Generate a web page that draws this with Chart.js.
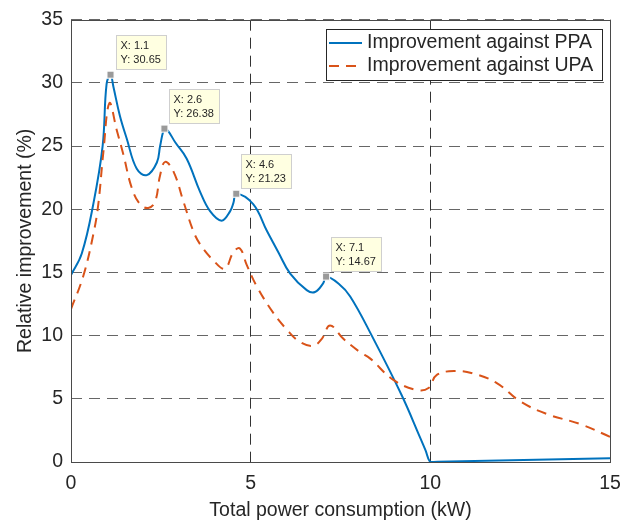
<!DOCTYPE html>
<html>
<head>
<meta charset="utf-8">
<script src="https://cdn.jsdelivr.net/npm/chart.js@4.4.0/dist/chart.umd.min.js"></script>
<style>
  body { margin: 0; background: #fff; }
  #chart { display: block; }
</style>
</head>
<body>
<canvas id="chart" width="639" height="525"></canvas>
<script>
// values
const ppaPower = [0, 0.3, 0.62, 0.88, 0.99, 1.1, 1.18, 1.36, 1.55, 1.83, 2.11, 2.39, 2.48, 2.6, 2.7, 2.9, 3.22, 3.59, 3.87, 4.19, 4.43, 4.52, 4.6, 5.07, 5.45, 5.77, 6.1, 6.56, 6.79, 7.02, 7.1, 7.45, 7.77, 8.37, 9.2, 9.71, 9.87, 10, 10.2, 15];
const ppaGain = [14.8, 16.5, 20.4, 25, 29.9, 30.65, 29.7, 27.4, 25.6, 23.2, 22.7, 23.7, 25.0, 26.38, 26.2, 25.3, 24.0, 21.4, 19.85, 19.1, 19.85, 20.5, 21.23, 20.4, 18.3, 16.6, 14.9, 13.6, 13.45, 14.15, 14.67, 14.1, 13.1, 10.0, 5.3, 1.97, 0.9, 0, 0.02, 0.3];

const upaPower = [0, 0.34, 0.62, 0.76, 0.9, 1.07, 1.27, 1.46, 1.69, 1.92, 2.15, 2.34, 2.48, 2.62, 2.85, 3.13, 3.4, 3.6, 3.96, 4.28, 4.52, 4.7, 4.89, 5.17, 5.63, 6.0, 6.37, 6.74, 6.98, 7.21, 7.58, 8.04, 8.32, 8.97, 9.62, 9.95, 10.18, 10.73, 11.2, 11.85, 12.5, 13.24, 14.17, 15];
const upaGain = [12.1, 14.7, 18.0, 20.4, 24.5, 28.4, 26.3, 24.3, 21.7, 20.4, 20.1, 20.6, 22.7, 23.75, 23.0, 20.6, 18.3, 17.2, 15.96, 15.3, 16.6, 16.9, 15.6, 13.9, 11.8, 10.5, 9.5, 9.2, 9.75, 10.8, 9.75, 8.7, 8.2, 6.5, 5.7, 5.85, 6.9, 7.2, 7.0, 6.25, 4.8, 3.8, 3.0, 2.0];

// data tips on the PPA peaks
const tipPower = [1.1, 2.6, 4.6, 7.1];
const tipGain = [30.65, 26.38, 21.23, 14.67];

const xTicks = [0, 5, 10, 15];
const yTicks = [0, 5, 10, 15, 20, 25, 30, 35];
const seriesNames = ["Improvement against PPA", "Improvement against UPA"];

const FONT = "'Liberation Sans', Arial, Helvetica, sans-serif";
const TEXT = "#262626";

function toPoints(xs, ys) {
  return xs.map((x, i) => ({ x: x, y: ys[i] }));
}

// axes box
const frame = {
  id: "frame",
  afterDatasetsDraw(chart) {
    const { ctx, chartArea: a } = chart;
    ctx.save();
    ctx.strokeStyle = "#4a4a4a";
    ctx.lineWidth = 1;
    ctx.strokeRect(Math.round(a.left) + 0.5, Math.round(a.top) + 0.5,
      Math.round(a.right - a.left), Math.round(a.bottom - a.top));
    ctx.restore();
  }
};

// yellow data tip boxes
const dataTips = {
  id: "dataTips",
  afterDraw(chart) {
    const ctx = chart.ctx;
    const meta = chart.getDatasetMeta(2);
    ctx.save();
    ctx.font = "11px " + FONT;
    meta.data.forEach((pt, i) => {
      const lines = ["X: " + tipPower[i], "Y: " + tipGain[i]];
      const w = Math.round(Math.max(...lines.map(l => ctx.measureText(l).width)) + 10);
      const h = 34;
      const left = Math.round(pt.x + 5);
      const top = Math.round(pt.y - 6 - h);
      ctx.fillStyle = "#ffffe1";
      ctx.fillRect(left, top, w, h);
      ctx.strokeStyle = "#cfcfcf";
      ctx.lineWidth = 1;
      ctx.strokeRect(left + 0.5, top + 0.5, w, h);
      ctx.fillStyle = TEXT;
      ctx.textBaseline = "middle";
      ctx.fillText(lines[0], left + 4.5, top + 11);
      ctx.fillText(lines[1], left + 4.5, top + 24.5);
    });
    ctx.restore();
  }
};

// legend inside the top right corner
const insideLegend = {
  id: "insideLegend",
  afterDraw(chart) {
    const { ctx, chartArea: a } = chart;
    ctx.save();
    ctx.font = "19.5px " + FONT;
    const textW = Math.max(...seriesNames.map(n => ctx.measureText(n).width));
    const w = Math.round(textW + 50);
    const h = 51;
    const left = Math.round(a.right - 8 - w);
    const top = Math.round(a.top + 9);
    ctx.fillStyle = "#fff";
    ctx.fillRect(left, top, w, h);
    ctx.strokeStyle = "#262626";
    ctx.lineWidth = 1;
    ctx.strokeRect(left + 0.5, top + 0.5, w, h);
    chart.data.datasets.slice(0, 2).forEach((ds, i) => {
      const y = top + 14 + i * 23;
      ctx.strokeStyle = ds.borderColor;
      ctx.lineWidth = ds.borderWidth;
      ctx.setLineDash(ds.borderDash || []);
      ctx.beginPath();
      ctx.moveTo(left + 3, y);
      ctx.lineTo(left + 36, y);
      ctx.stroke();
      ctx.setLineDash([]);
      ctx.fillStyle = TEXT;
      ctx.textBaseline = "middle";
      ctx.fillText(ds.label, left + 41, y);
    });
    ctx.restore();
  }
};

const ctx = document.getElementById("chart").getContext("2d");
const chart = new Chart(ctx, {
  type: "line",
  data: {
    datasets: [
      {
        label: seriesNames[0],
        data: toPoints(ppaPower, ppaGain),
        borderColor: "#0072BD",
        borderWidth: 2,
        pointRadius: 0,
        tension: 0.4,
        fill: false,
        order: 2,
      },
      {
        label: seriesNames[1],
        data: toPoints(upaPower, upaGain),
        borderColor: "#D95319",
        borderWidth: 2,
        borderDash: [10, 7],
        pointRadius: 0,
        tension: 0.4,
        fill: false,
        order: 1,
      },
      {
        label: "tips",
        data: toPoints(tipPower, tipGain),
        showLine: false,
        pointStyle: "rect",
        pointRadius: 5,
        pointBackgroundColor: "#9a9a9a",
        pointBorderColor: "#ffffff",
        pointBorderWidth: 1,
        order: 0,
      },
    ],
  },
  options: {
    responsive: false,
    animation: false,
    events: [],
    layout: { padding: { top: 12, right: 29, left: 0, bottom: 0 } },
    plugins: {
      legend: { display: false },
      tooltip: { enabled: false },
    },
    scales: {
      x: {
        type: "linear",
        min: 0,
        max: 15,
        afterBuildTicks: (s) => { s.ticks = xTicks.map(v => ({ value: v })); },
        afterFit: (s) => { s.height = 63; },
        grid: { color: "#333333", lineWidth: 1, drawTicks: false },
        border: { display: false, dash: [11, 7] },
        ticks: { color: TEXT, font: { family: FONT, size: 19.5 }, padding: 10, maxRotation: 0 },
        title: {
          display: true,
          text: "Total power consumption (kW)",
          color: TEXT,
          font: { family: FONT, size: 19.5 },
          padding: { top: 0, bottom: 3 },
        },
      },
      y: {
        type: "linear",
        min: 0,
        max: 35,
        afterBuildTicks: (s) => { s.ticks = yTicks.map(v => ({ value: v })); },
        afterFit: (s) => { s.width = 71; },
        grid: { color: "#666666", lineWidth: 1, drawTicks: false },
        border: { display: false, dash: [11, 7] },
        ticks: { color: TEXT, font: { family: FONT, size: 19.5 }, padding: 8 },
        title: {
          display: true,
          text: "Relative improvement (%)",
          color: TEXT,
          font: { family: FONT, size: 19.5 },
          padding: { top: 14, bottom: 0 },
        },
      },
    },
  },
  plugins: [frame, dataTips, insideLegend],
});
</script>
</body>
</html>
